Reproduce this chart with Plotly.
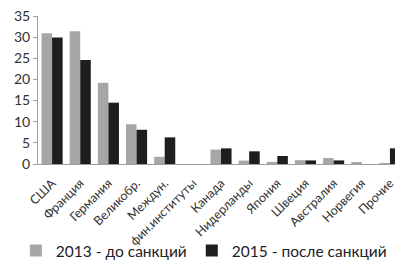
import plotly.graph_objects as go

categories = ["США", "Франция", "Германия", "Великобр.", "Междун.", "фин.институты",
              "Канада", "Нидерланды", "Япония", "Швеция", "Австралия", "Норвегия", "Прочие"]
values_2013 = [30.9, 31.4, 19.2, 9.4, 1.7, None, 3.4, 0.8, 0.5, 0.9, 1.4, 0.4, 0.2]
values_2015 = [29.9, 24.6, 14.5, 8.1, 6.3, None, 3.7, 3.0, 1.9, 0.85, 0.85, 0.0, 3.7]
y_ticks = [0, 5, 10, 15, 20, 25, 30, 35]

fig = go.Figure()
fig.add_trace(go.Bar(x=categories, y=values_2013, name="2013 - до санкций",
                     marker=dict(color="#A6A6A6", line=dict(width=0))))
fig.add_trace(go.Bar(x=categories, y=values_2015, name="2015 - после санкций",
                     marker=dict(color="#1E1E1E", line=dict(width=0))))

fig.update_layout(
    width=395, height=268,
    margin=dict(l=38, r=0, t=16, b=103),
    paper_bgcolor="white", plot_bgcolor="white",
    barmode="group", bargap=0.25, bargroupgap=0,
    font=dict(family="Lato", color="#333333"),
    showlegend=True,
    legend=dict(orientation="h", xref="paper", yref="paper",
                x=-0.062, xanchor="left", y=-0.585, yanchor="middle",
                bgcolor="rgba(0,0,0,0)",
                font=dict(size=15.5, color="#222222"), itemwidth=30,
                traceorder="normal"),
    xaxis=dict(range=[-0.5, 12.18], tickangle=-45, showline=True, linecolor="#A0A0A0",
               linewidth=1, ticks="", tickfont=dict(size=12.5, color="#333333"),
               showgrid=False, automargin=False, ticklabeloverflow="allow",
               ticklabelstandoff=6),
    yaxis=dict(range=[0, 35], tickvals=y_ticks, showline=True, linecolor="#A0A0A0",
               linewidth=1, ticks="outside", ticklen=4, tickcolor="#A0A0A0",
               showgrid=False, zeroline=False, automargin=False,
               ticklabeloverflow="allow",
               tickfont=dict(size=14, color="#333333")),
)

fig.write_html(
    "out.html",
    config={"displayModeBar": False},
    post_script="document.body.style.margin='0';"
                "document.body.style.overflow='hidden';"
                "document.documentElement.style.overflow='hidden';",
)
